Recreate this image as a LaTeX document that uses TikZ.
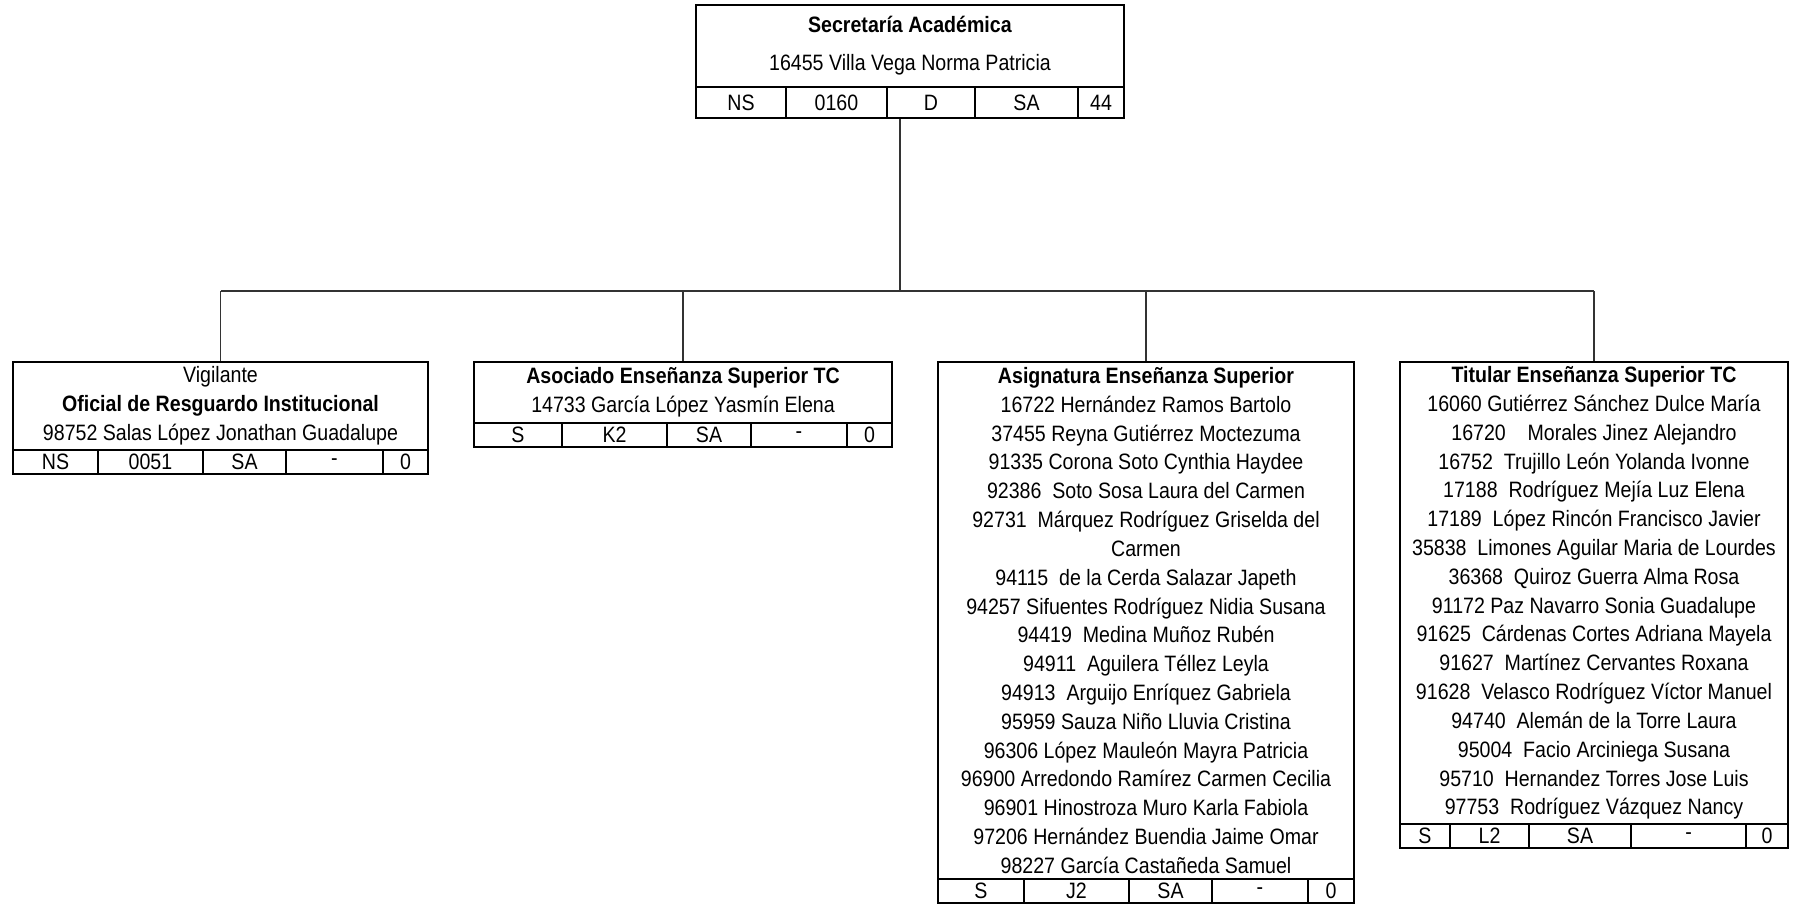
\documentclass[tikz,border=0pt]{standalone}
\usepackage{fontspec}
\setmainfont{Liberation Sans}[FakeStretch=0.88]
\newcommand{\ux}{0.015cm}
\newcommand{\letra}{\fontsize{9.5}{12.3}\selectfont}
% fila de claves bajo cada puesto: nombre, y del centro, lista izq/der/texto
\newcommand{\filacod}[3]{%
  \foreach \a/\b/\t [count=\i] in {#3}{
    \pgfmathsetmacro\cx{(\a+\b)/2}
    \pgfmathsetmacro\ancho{\b-\a}
    \node[celda, minimum width=\ancho*\ux] (#1-\i) at (\cx,#2) {\t};
  }}
\tikzset{
  puesto/.style={draw, line width=0.9pt, inner sep=0pt, align=center, font=\letra},
  celda/.style={draw, line width=0.9pt, inner sep=0pt, minimum height=24*\ux, font=\letra},
  rama/.style={line width=0.6pt, black!80},
}

\begin{document}
\begin{tikzpicture}[x=0.015cm, y=-0.015cm]
  \useasboundingbox (0,0) rectangle (1795,905);

  %% jefatura
  \node[puesto, minimum width=428*\ux, minimum height=82*\ux] (sec) at (910,46)
    {\textbf{Secretaría Académica}\\[3.9pt] 16455 Villa Vega Norma Patricia};
  \begin{scope}[celda/.append style={minimum height=31*\ux}]
    \filacod{sec}{102.5}{696/786/NS, 786/887/0160, 887/975/D, 975/1078/SA, 1078/1124/44}
  \end{scope}

  %% puestos
  \node[puesto, minimum width=415*\ux, minimum height=88*\ux] (vig) at (220.5,406)
    {Vigilante\\ \textbf{Oficial de Resguardo Institucional}\\ 98752 Salas López Jonathan Guadalupe};
  \filacod{vig}{462}{13/98/NS, 98/203/0051, 203/286/SA, 286/383/-, 383/428/0}

  \node[puesto, minimum width=418*\ux, minimum height=61*\ux] (aso) at (683,392.5)
    {\textbf{Asociado Enseñanza Superior TC}\\ 14733 García López Yasmín Elena};
  \filacod{aso}{435}{474/562/S, 562/667/K2, 667/751/SA, 751/847/-, 847/892/0}

  \node[puesto, minimum width=416*\ux, minimum height=517*\ux] (asi) at (1146,620.5)
    {\textbf{Asignatura Enseñanza Superior}\\
     16722 Hernández Ramos Bartolo\\
     37455 Reyna Gutiérrez Moctezuma\\
     91335 Corona Soto Cynthia Haydee\\
     92386~ Soto Sosa Laura del Carmen\\
     92731~ Márquez Rodríguez Griselda del\\
     Carmen\\
     94115~ de la Cerda Salazar Japeth\\
     94257 Sifuentes Rodríguez Nidia Susana\\
     94419~ Medina Muñoz Rubén\\
     94911~ Aguilera Téllez Leyla\\
     94913~ Arguijo Enríquez Gabriela\\
     95959 Sauza Niño Lluvia Cristina\\
     96306 López Mauleón Mayra Patricia\\
     96900 Arredondo Ramírez Carmen Cecilia\\
     96901 Hinostroza Muro Karla Fabiola\\
     97206 Hernández Buendia Jaime Omar\\
     98227 García Castañeda Samuel};
  \filacod{asi}{891}{938/1024/S, 1024/1129/J2, 1129/1212/SA, 1212/1308/-, 1308/1354/0}

  \node[puesto, minimum width=388*\ux, minimum height=462*\ux] (tit) at (1594,593)
    {\textbf{Titular Enseñanza Superior TC}\\
     16060 Gutiérrez Sánchez Dulce María\\
     16720~ ~ Morales Jinez Alejandro\\
     16752~ Trujillo León Yolanda Ivonne\\
     17188~ Rodríguez Mejía Luz Elena\\
     17189~ López Rincón Francisco Javier\\
     35838~ Limones Aguilar Maria de Lourdes\\
     36368~ Quiroz Guerra Alma Rosa\\
     91172 Paz Navarro Sonia Guadalupe\\
     91625~ Cárdenas Cortes Adriana Mayela\\
     91627~ Martínez Cervantes Roxana\\
     91628~ Velasco Rodríguez Víctor Manuel\\
     94740~ Alemán de la Torre Laura\\
     95004~ Facio Arciniega Susana\\
     95710~ Hernandez Torres Jose Luis\\
     97753~ Rodríguez Vázquez Nancy};
  \filacod{tit}{836}{1400/1450/S, 1450/1529/L2, 1529/1631/SA, 1631/1746/-, 1746/1788/0}

  %% lineas de mando
  \coordinate (barra) at (900,291);
  \draw[rama] (sec-3.south -| barra) -- (barra);
  \draw[rama] (vig.north |- barra) -- (tit.north |- barra);
  \foreach \p in {vig,aso,asi,tit}
    \draw[rama] (\p.north |- barra) -- (\p.north);

\end{tikzpicture}
\end{document}
